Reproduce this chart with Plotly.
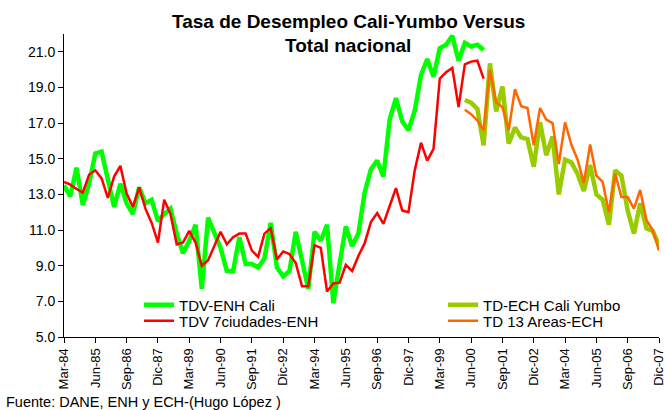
import plotly.graph_objects as go

# Trimestres Mar-84 .. Dic-07
months = ["Mar", "Jun", "Sep", "Dic"]
years = ["84", "85", "86", "87", "88", "89", "90", "91", "92", "93", "94", "95",
         "96", "97", "98", "99", "00", "01", "02", "03", "04", "05", "06", "07"]
quarters = [f"{m}-{y}" for y in years for m in months]
tick_labels = quarters[::5]

# TDV-ENH Cali (Mar-84 .. Dic-00)
tdv_cali = [13.5, 12.9, 14.5, 12.4, 13.6, 15.3, 15.4, 13.8, 12.3, 13.6,
            12.5, 11.9, 13.4, 12.5, 12.7, 11.5, 11.9, 12.2, 10.8, 9.7,
            10.4, 11.3, 7.7, 11.7, 10.9, 10.0, 8.7, 8.7, 10.6, 9.1,
            9.1, 8.9, 9.4, 11.4, 8.9, 8.4, 8.7, 10.9, 9.3, 7.7,
            10.9, 10.4, 11.3, 6.9, 9.1, 11.2, 10.1, 10.8, 13.1, 14.4,
            14.9, 14.0, 17.2, 18.4, 17.1, 16.6, 17.7, 19.7, 20.6, 19.6,
            21.2, 21.4, 21.9, 20.5, 21.5, 21.3, 21.4, 21.1]

# TDV 7ciudades-ENH (Mar-84 .. Dic-00)
tdv_7ciudades = [13.7, 13.55, 13.3, 13.1, 14.1, 14.35, 13.9, 12.8, 14.0, 14.6,
                 13.05, 12.3, 13.4, 12.2, 11.4, 10.3, 12.7, 11.9, 10.2, 10.3,
                 10.95, 10.3, 9.0, 9.3, 10.1, 10.9, 10.2, 10.6, 10.8, 10.8,
                 9.85, 9.5, 10.8, 11.1, 9.35, 9.8, 9.65, 9.15, 7.85, 7.85,
                 10.15, 10.0, 7.55, 8.0, 8.05, 9.05, 8.7, 9.55, 10.25, 11.45,
                 11.95, 11.35, 12.35, 13.35, 12.1, 12.0, 14.35, 15.9, 14.9, 15.55,
                 19.5, 19.85, 20.1, 17.9, 20.3, 20.45, 20.5, 19.5]

# TD-ECH Cali Yumbo (Mar-00 .. Dic-07)
td_cali_yumbo = [18.3, 18.15, 17.8, 15.75, 20.35, 17.65, 19.05, 15.85, 16.75, 16.2,
                 16.1, 14.55, 17.05, 15.2, 16.25, 13.0, 14.95, 14.8, 14.15, 13.2,
                 14.65, 13.0, 12.7, 11.3, 14.35, 14.05, 12.1, 10.8, 12.5, 11.1,
                 10.95, 10.15]

# TD 13 Areas-ECH (Mar-00 .. Dic-07)
td_13_areas = [17.75, 17.5, 17.15, 16.6, 20.0, 18.15, 17.9, 16.6, 18.9, 17.95,
               17.85, 15.75, 17.85, 17.2, 17.0, 14.7, 17.05, 15.8, 14.95, 13.65,
               15.8, 14.05, 13.7, 12.0, 14.15, 12.85, 12.85, 12.2, 13.25, 11.55,
               11.0, 9.85]

enh_x = quarters[:len(tdv_cali)]
ech_x = quarters[len(quarters) - len(td_cali_yumbo):]

FONT = "Liberation Sans, Arial, sans-serif"

# conversion pixel -> papel (zona de trazado 64..659 x 34..337)
def px_x(x):
    return (x - 64) / 595

def px_y(y):
    return (337 - y) / 303

fig = go.Figure()
fig.add_trace(go.Scatter(x=enh_x, y=tdv_cali, mode="lines", name="TDV-ENH Cali",
                         line=dict(color="#00FF00", width=4.5), legend="legend"))
fig.add_trace(go.Scatter(x=enh_x, y=tdv_7ciudades, mode="lines", name="TDV 7ciudades-ENH",
                         line=dict(color="#FF0000", width=2.5), legend="legend2"))
fig.add_trace(go.Scatter(x=ech_x, y=td_cali_yumbo, mode="lines", name="TD-ECH Cali Yumbo",
                         line=dict(color="#99CC00", width=4.5), legend="legend3"))
fig.add_trace(go.Scatter(x=ech_x, y=td_13_areas, mode="lines", name="TD 13 Areas-ECH",
                         line=dict(color="#FF6600", width=2.5), legend="legend4"))

legend_style = dict(font=dict(family=FONT, size=15, color="black"),
                    bgcolor="rgba(0,0,0,0)", yanchor="middle", xanchor="left")

fig.update_layout(
    width=666,
    height=410,
    margin=dict(l=64, r=7, t=34, b=73),
    paper_bgcolor="white",
    plot_bgcolor="white",
    font=dict(family=FONT, color="black"),
    showlegend=True,
    legend=dict(x=px_x(139), y=px_y(305), **legend_style),
    legend2=dict(x=px_x(139), y=px_y(321), **legend_style),
    legend3=dict(x=px_x(443), y=px_y(305), **legend_style),
    legend4=dict(x=px_x(443), y=px_y(321), **legend_style),
    xaxis=dict(
        type="category",
        categoryorder="array",
        categoryarray=quarters,
        tickvals=tick_labels,
        ticktext=tick_labels,
        range=[0, len(quarters) - 1],
        tickangle=-90,
        ticks="outside",
        ticklen=5,
        tickcolor="black",
        showline=True,
        linecolor="black",
        linewidth=1,
        showgrid=False,
        automargin=False,
        tickfont=dict(family=FONT, size=13, color="black"),
    ),
    yaxis=dict(
        range=[5, 22],
        tick0=5,
        dtick=2,
        tickformat=".1f",
        ticks="outside",
        ticklen=5,
        tickcolor="black",
        showline=True,
        linecolor="black",
        linewidth=1,
        showgrid=False,
        zeroline=False,
        automargin=False,
        tickfont=dict(family=FONT, size=14, color="black"),
    ),
)

title_font = dict(family=FONT, size=19, color="black")
fig.add_annotation(text="<b>Tasa de Desempleo Cali-Yumbo Versus</b>", xref="paper", yref="paper",
                   x=px_x(348), y=px_y(22), xanchor="center", yanchor="middle",
                   showarrow=False, font=title_font)
fig.add_annotation(text="<b>Total nacional</b>", xref="paper", yref="paper",
                   x=px_x(348), y=px_y(45), xanchor="center", yanchor="middle",
                   showarrow=False, font=title_font)
fig.add_annotation(text="Fuente: DANE, ENH y ECH-(Hugo López )", xref="paper", yref="paper",
                   x=px_x(4), y=px_y(402), xanchor="left", yanchor="middle",
                   showarrow=False, font=dict(family=FONT, size=14.5, color="black"))

# la pagina trae un margen de 8px en <body>: se quita para que el grafico ocupe la ventana
fig.write_html("out.html", config={"displayModeBar": False},
               post_script="document.body.style.margin='0';document.body.style.overflow='hidden';")
